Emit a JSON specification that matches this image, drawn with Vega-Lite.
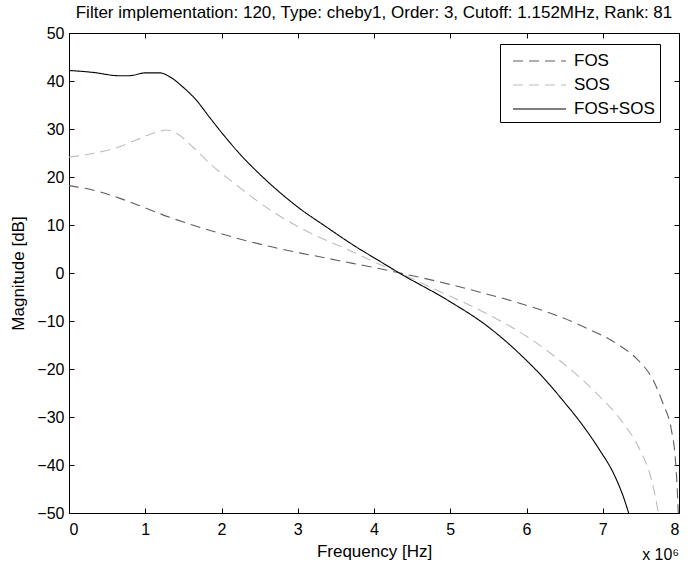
{
  "$schema": "https://vega.github.io/schema/vega-lite/v6.json",
  "autosize": "none",
  "width": 610,
  "height": 480,
  "padding": {"left": 69, "top": 33, "right": 16, "bottom": 62},
  "background": "white",
  "title": {"text": "Filter implementation: 120, Type: cheby1, Order: 3, Cutoff: 1.152MHz, Rank: 81", "font": "Liberation Sans", "fontSize": 17, "fontWeight": "normal", "color": "#000", "offset": 3, "anchor": "middle"},
  "config": {
    "view": {"stroke": "#000", "strokeWidth": 1},
    "axis": {"grid": false, "domain": false, "ticks": true, "zindex": 1, "tickColor": "#000", "tickOpacity": 1, "tickWidth": 1, "tickSize": 5, "offset": -5, "labelFont": "Liberation Sans", "labelFontSize": 16, "labelColor": "#000", "titleFont": "Liberation Sans", "titleFontSize": 17, "titleFontWeight": "normal", "titleColor": "#000"}
  },
  "datasets": {
    "curves": [
      {"f": 0, "mag": 18.2, "series": "FOS"},
      {"f": 0.31, "mag": 17.3, "series": "FOS"},
      {"f": 0.66, "mag": 15.6, "series": "FOS"},
      {"f": 1.01, "mag": 13.5, "series": "FOS"},
      {"f": 1.32, "mag": 11.6, "series": "FOS"},
      {"f": 1.62, "mag": 10.0, "series": "FOS"},
      {"f": 1.97, "mag": 8.3, "series": "FOS"},
      {"f": 2.33, "mag": 6.7, "series": "FOS"},
      {"f": 2.67, "mag": 5.4, "series": "FOS"},
      {"f": 3.02, "mag": 4.2, "series": "FOS"},
      {"f": 3.38, "mag": 3.1, "series": "FOS"},
      {"f": 3.72, "mag": 2.0, "series": "FOS"},
      {"f": 4.05, "mag": 1.0, "series": "FOS"},
      {"f": 4.34, "mag": 0.0, "series": "FOS"},
      {"f": 4.82, "mag": -1.7, "series": "FOS"},
      {"f": 5.39, "mag": -4.0, "series": "FOS"},
      {"f": 5.91, "mag": -6.3, "series": "FOS"},
      {"f": 6.39, "mag": -8.8, "series": "FOS"},
      {"f": 6.79, "mag": -11.5, "series": "FOS"},
      {"f": 7.18, "mag": -14.7, "series": "FOS"},
      {"f": 7.44, "mag": -17.8, "series": "FOS"},
      {"f": 7.66, "mag": -22.3, "series": "FOS"},
      {"f": 7.79, "mag": -27.2, "series": "FOS"},
      {"f": 7.9, "mag": -32.7, "series": "FOS"},
      {"f": 7.95, "mag": -38.3, "series": "FOS"},
      {"f": 7.975, "mag": -44.5, "series": "FOS"},
      {"f": 7.99, "mag": -50, "series": "FOS"},
      {"f": 0, "mag": 24.1, "series": "SOS"},
      {"f": 0.31, "mag": 24.9, "series": "SOS"},
      {"f": 0.62, "mag": 26.1, "series": "SOS"},
      {"f": 0.88, "mag": 27.7, "series": "SOS"},
      {"f": 1.14, "mag": 29.3, "series": "SOS"},
      {"f": 1.28, "mag": 29.8, "series": "SOS"},
      {"f": 1.41, "mag": 29.1, "series": "SOS"},
      {"f": 1.62, "mag": 26.3, "series": "SOS"},
      {"f": 1.89, "mag": 22.2, "series": "SOS"},
      {"f": 2.15, "mag": 18.9, "series": "SOS"},
      {"f": 2.41, "mag": 15.7, "series": "SOS"},
      {"f": 2.67, "mag": 12.8, "series": "SOS"},
      {"f": 2.94, "mag": 10.2, "series": "SOS"},
      {"f": 3.29, "mag": 7.4, "series": "SOS"},
      {"f": 3.64, "mag": 5.0, "series": "SOS"},
      {"f": 4.05, "mag": 2.0, "series": "SOS"},
      {"f": 4.34, "mag": 0.0, "series": "SOS"},
      {"f": 4.91, "mag": -4.2, "series": "SOS"},
      {"f": 5.47, "mag": -8.4, "series": "SOS"},
      {"f": 6.04, "mag": -13.6, "series": "SOS"},
      {"f": 6.48, "mag": -18.8, "series": "SOS"},
      {"f": 6.92, "mag": -25.1, "series": "SOS"},
      {"f": 7.27, "mag": -31.3, "series": "SOS"},
      {"f": 7.49, "mag": -36.9, "series": "SOS"},
      {"f": 7.64, "mag": -43.1, "series": "SOS"},
      {"f": 7.71, "mag": -48.3, "series": "SOS"},
      {"f": 7.73, "mag": -50, "series": "SOS"},
      {"f": 0, "mag": 42.2, "series": "FOS+SOS"},
      {"f": 0.31, "mag": 41.8, "series": "FOS+SOS"},
      {"f": 0.66, "mag": 41.1, "series": "FOS+SOS"},
      {"f": 0.79, "mag": 41.1, "series": "FOS+SOS"},
      {"f": 1.01, "mag": 41.7, "series": "FOS+SOS"},
      {"f": 1.19, "mag": 41.7, "series": "FOS+SOS"},
      {"f": 1.32, "mag": 40.9, "series": "FOS+SOS"},
      {"f": 1.49, "mag": 38.8, "series": "FOS+SOS"},
      {"f": 1.67, "mag": 36.0, "series": "FOS+SOS"},
      {"f": 1.84, "mag": 32.5, "series": "FOS+SOS"},
      {"f": 2.02, "mag": 28.9, "series": "FOS+SOS"},
      {"f": 2.24, "mag": 24.8, "series": "FOS+SOS"},
      {"f": 2.5, "mag": 20.6, "series": "FOS+SOS"},
      {"f": 2.72, "mag": 17.4, "series": "FOS+SOS"},
      {"f": 3.02, "mag": 13.5, "series": "FOS+SOS"},
      {"f": 3.37, "mag": 9.65, "series": "FOS+SOS"},
      {"f": 3.72, "mag": 5.9, "series": "FOS+SOS"},
      {"f": 4.05, "mag": 2.7, "series": "FOS+SOS"},
      {"f": 4.34, "mag": -0.07, "series": "FOS+SOS"},
      {"f": 4.99, "mag": -5.9, "series": "FOS+SOS"},
      {"f": 5.48, "mag": -11.0, "series": "FOS+SOS"},
      {"f": 5.96, "mag": -17.6, "series": "FOS+SOS"},
      {"f": 6.22, "mag": -21.8, "series": "FOS+SOS"},
      {"f": 6.49, "mag": -26.8, "series": "FOS+SOS"},
      {"f": 6.74, "mag": -31.8, "series": "FOS+SOS"},
      {"f": 6.96, "mag": -36.9, "series": "FOS+SOS"},
      {"f": 7.14, "mag": -41.7, "series": "FOS+SOS"},
      {"f": 7.27, "mag": -46.6, "series": "FOS+SOS"},
      {"f": 7.34, "mag": -50, "series": "FOS+SOS"}
    ]
  },
  "resolve": {"axis": {"x": "independent", "y": "independent"}},
  "layer": [
    {
      "data": {"name": "curves"},
      "mark": {"type": "line", "strokeWidth": 1.1, "clip": true, "interpolate": "monotone"},
      "encoding": {
        "x": {"field": "f", "type": "quantitative", "scale": {"domain": [0, 8], "nice": false}, "axis": {"title": "Frequency [Hz]", "values": [0,1,2,3,4,5,6,7,8], "labelPadding": 8, "titlePadding": 6}},
        "y": {"field": "mag", "type": "quantitative", "scale": {"domain": [-50, 50], "nice": false}, "axis": {"title": "Magnitude [dB]", "values": [-50,-40,-30,-20,-10,0,10,20,30,40,50], "labelPadding": 5, "titlePadding": 9}},
        "color": {"field": "series", "type": "nominal", "scale": {"domain": ["FOS", "SOS", "FOS+SOS"], "range": ["#5f5f5f", "#bdbdbd", "#000000"]},
          "legend": {"title": null, "orient": "none", "legendX": 431, "legendY": 11, "strokeColor": "#000", "fillColor": "#fff", "padding": 5, "symbolType": "M-0.364,0H4.455", "symbolSize": 484, "symbolStrokeWidth": 1.1, "labelFont": "Liberation Sans", "labelFontSize": 17, "labelColor": "#000", "labelOffset": 45, "rowPadding": 4, "cornerRadius": 0}},
        "strokeDash": {"field": "series", "type": "nominal", "scale": {"domain": ["FOS", "SOS", "FOS+SOS"], "range": [[10, 6], [10, 6], [1, 0]]}},
        "detail": {"field": "series"}
      }
    },
    {
      "data": {"values": [{}]},
      "mark": {"type": "point", "opacity": 0},
      "encoding": {
        "x": {"datum": 0, "type": "quantitative", "axis": {"orient": "top", "labels": false, "title": null, "values": [0,1,2,3,4,5,6,7,8]}},
        "y": {"datum": 0, "type": "quantitative", "axis": {"orient": "right", "labels": false, "title": null, "values": [-50,-40,-30,-20,-10,0,10,20,30,40,50]}}
      }
    },
    {
      "data": {"values": [{"label": "x 10⁶"}]},
      "mark": {"type": "text", "align": "right", "baseline": "alphabetic", "dy": 47, "dx": 0, "font": "Liberation Sans", "fontSize": 16, "color": "#000", "clip": false},
      "encoding": {
        "x": {"datum": 8, "type": "quantitative", "axis": null},
        "y": {"datum": -50, "type": "quantitative", "axis": null},
        "text": {"field": "label"}
      }
    }
  ]
}
